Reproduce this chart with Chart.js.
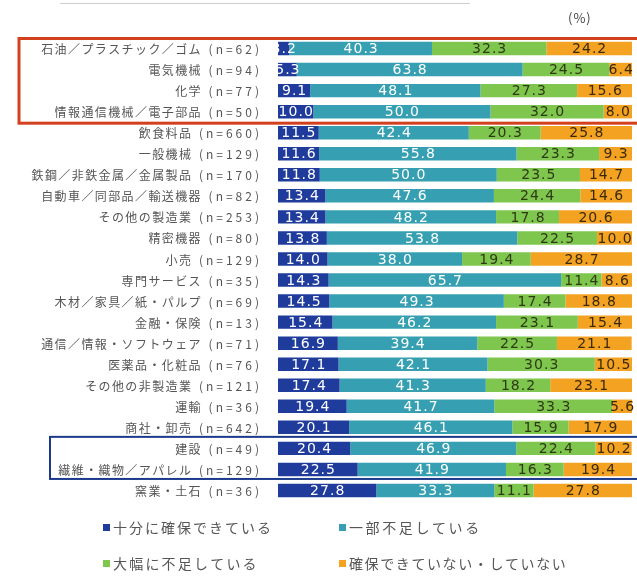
<!DOCTYPE html>
<html>
<head>
<meta charset="utf-8">
<script src="https://cdn.jsdelivr.net/npm/chart.js@4.4.1/dist/chart.umd.min.js"></script>
<style>
  html, body { margin: 0; padding: 0; background: #ffffff; }
  #wrap { position: relative; width: 637px; height: 578px; }
</style>
</head>
<body>
<div id="wrap"><canvas id="c" width="637" height="578"></canvas></div>
<script>
// 業種別の人材確保状況 (%)
const industries = [
  '石油／プラスチック／ゴム', '電気機械', '化学', '情報通信機械／電子部品',
  '飲食料品', '一般機械', '鉄鋼／非鉄金属／金属製品', '自動車／同部品／輸送機器',
  'その他の製造業', '精密機器', '小売', '専門サービス',
  '木材／家具／紙・パルプ', '金融・保険', '通信／情報・ソフトウェア', '医薬品・化粧品',
  'その他の非製造業', '運輸', '商社・卸売', '建設',
  '繊維・織物／アパレル', '窯業・土石'
];
const sampleSizes = [62, 94, 77, 50, 660, 129, 170, 82, 253, 80, 129, 35, 69, 13, 71, 76, 121, 36, 642, 49, 129, 36];
const seriesNames = ['十分に確保できている', '一部不足している', '大幅に不足している', '確保できていない・していない'];
const sufficient = [3.2, 5.3, 9.1, 10.0, 11.5, 11.6, 11.8, 13.4, 13.4, 13.8, 14.0, 14.3, 14.5, 15.4, 16.9, 17.1, 17.4, 19.4, 20.1, 20.4, 22.5, 27.8];
const partlyShort = [40.3, 63.8, 48.1, 50.0, 42.4, 55.8, 50.0, 47.6, 48.2, 53.8, 38.0, 65.7, 49.3, 46.2, 39.4, 42.1, 41.3, 41.7, 46.1, 46.9, 41.9, 33.3];
const greatlyShort = [32.3, 24.5, 27.3, 32.0, 20.3, 23.3, 23.5, 24.4, 17.8, 22.5, 19.4, 11.4, 17.4, 23.1, 22.5, 30.3, 18.2, 33.3, 15.9, 22.4, 16.3, 11.1];
const notSecured = [24.2, 6.4, 15.6, 8.0, 25.8, 9.3, 14.7, 14.6, 20.6, 10.0, 28.7, 8.6, 18.8, 15.4, 21.1, 10.5, 23.1, 5.6, 17.9, 10.2, 19.4, 27.8];

const categories = industries.map((name, i) => name + ' (n=' + sampleSizes[i] + ')');
const colors = ['#1f3c9c', '#36a0b2', '#7fc64e', '#f4a222'];
const labelColors = ['#ffffff', '#ffffff', '#2e3a14', '#3a2a08'];
const values = [sufficient, partlyShort, greatlyShort, notSecured];

const JP_FONT = '"Noto Sans CJK JP", "Noto Sans", sans-serif';

// category labels: industry name plus a widely spaced sample size, right-aligned to the axis
const categoryLabels = {
  id: 'categoryLabels',
  afterDraw(chart) {
    const ctx = chart.ctx;
    const y = chart.scales.y;
    const right = y.right - 19;
    ctx.save();
    ctx.fillStyle = '#555';
    ctx.textBaseline = 'middle';
    ctx.textAlign = 'left';
    industries.forEach((name, i) => {
      const py = y.getPixelForValue(i) + 1;
      const nText = '(n=' + sampleSizes[i] + ')';
      ctx.font = '12px ' + JP_FONT;
      ctx.letterSpacing = '3px';
      const nW = ctx.measureText(nText).width - 3;
      ctx.fillText(nText, right - nW, py);
      ctx.letterSpacing = '1.4px';
      const nameW = ctx.measureText(name).width - 1.4;
      ctx.fillText(name, right - nW - 8 - nameW, py);
    });
    ctx.restore();
  }
};

// value labels centred in each segment
const segmentLabels = {
  id: 'segmentLabels',
  afterDatasetsDraw(chart) {
    const ctx = chart.ctx;
    ctx.save();
    ctx.letterSpacing = '1px';
    ctx.font = '14px "DejaVu Sans", sans-serif';
    ctx.textAlign = 'center';
    ctx.textBaseline = 'middle';
    chart.data.datasets.forEach((ds, di) => {
      const meta = chart.getDatasetMeta(di);
      ctx.fillStyle = labelColors[di];
      meta.data.forEach((bar, i) => {
        const x = (bar.x + bar.base) / 2 + 0.5;
        ctx.fillText(ds.data[i].toFixed(1), x, bar.y + 1);
      });
    });
    ctx.restore();
  }
};

// highlight frames, unit note, legend
const decorations = {
  id: 'decorations',
  afterDraw(chart) {
    const ctx = chart.ctx;
    const y = chart.scales.y;
    const step = y.getPixelForValue(1) - y.getPixelForValue(0);
    ctx.save();
    // thin rule at the top
    ctx.strokeStyle = '#cfcfcf';
    ctx.lineWidth = 1;
    ctx.beginPath();
    ctx.moveTo(60, 3.5); ctx.lineTo(470, 3.5);
    ctx.stroke();

    // unit
    ctx.fillStyle = '#444';
    ctx.font = '13px ' + JP_FONT;
    ctx.textAlign = 'left';
    ctx.textBaseline = 'middle';
    ctx.letterSpacing = '1px';
    ctx.fillText('(%)', 568, 18);

    // red frame around the first four rows
    ctx.strokeStyle = '#d2401e';
    ctx.lineWidth = 3;
    const rTop = y.getPixelForValue(0) - step / 2 + 0.5;
    const rBot = y.getPixelForValue(3) + step / 2 + 1;
    ctx.strokeRect(19, rTop, 640, rBot - rTop);

    // blue frame around 建設 and 繊維
    ctx.strokeStyle = '#1b3a8c';
    ctx.lineWidth = 2;
    const bTop = y.getPixelForValue(19) - step / 2 - 1;
    const bBot = y.getPixelForValue(20) + step / 2 - 1;
    ctx.strokeRect(50, bTop, 600, bBot - bTop);

    // legend in two columns
    const cols = [103, 339];
    const rows = [528, 564];
    const spacing = ['2px', '2.6px', '2.2px', '1.6px'];
    ctx.font = '14px ' + JP_FONT;
    ctx.textBaseline = 'middle';
    seriesNames.forEach((name, i) => {
      const cx = cols[i % 2], cy = rows[Math.floor(i / 2)];
      ctx.fillStyle = colors[i];
      ctx.fillRect(cx, cy - 4, 7, 7);
      ctx.fillStyle = '#555';
      ctx.letterSpacing = spacing[i];
      ctx.fillText(name, cx + 10, cy);
    });
    ctx.restore();
  }
};

new Chart(document.getElementById('c'), {
  type: 'bar',
  data: {
    labels: categories,
    datasets: values.map((v, i) => ({
      label: seriesNames[i],
      data: v,
      backgroundColor: colors[i],
      borderWidth: 0,
      barPercentage: 1,
      categoryPercentage: 0.64
    }))
  },
  options: {
    indexAxis: 'y',
    responsive: false,
    animation: false,
    layout: { padding: { top: 38, bottom: 77, left: 0, right: 5 } },
    plugins: { legend: { display: false }, tooltip: { enabled: false } },
    scales: {
      x: { stacked: true, min: 0, max: 100, display: false },
      y: {
        stacked: true,
        grid: { display: false, drawTicks: false },
        border: { display: false },
        afterFit(scale) { scale.width = 278; },
        ticks: { display: false }
      }
    }
  },
  plugins: [segmentLabels, categoryLabels, decorations]
});
</script>
</body>
</html>
